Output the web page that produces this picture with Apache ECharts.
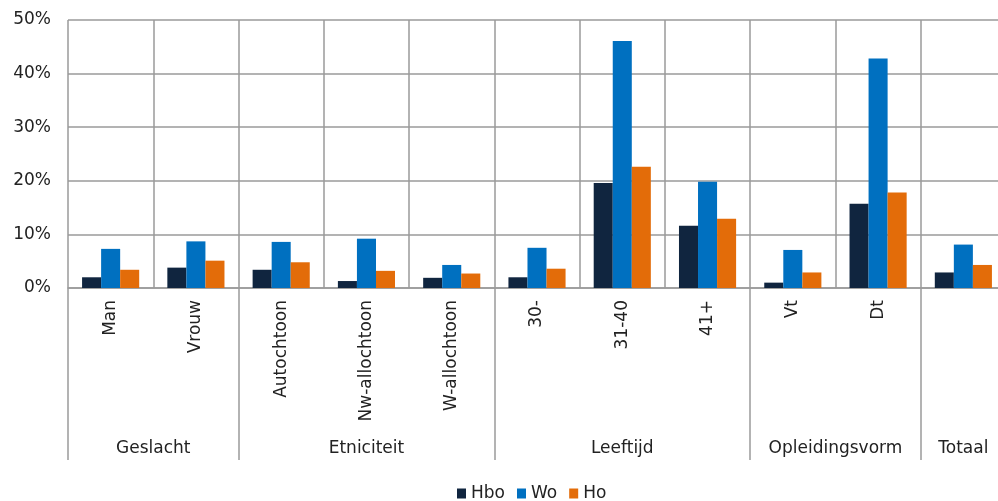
<!DOCTYPE html>
<html>
<head>
<meta charset="utf-8">
<script src="https://cdn.jsdelivr.net/npm/echarts@6/dist/echarts.min.js"></script>
<style>html,body{margin:0;padding:0;background:#fff}#c{width:998px;height:501px}</style>
</head>
<body>
<div id="c"></div>
<script>
const categories = ['Man','Vrouw','Autochtoon','Nw-allochtoon','W-allochtoon','30-','31-40','41+','Vt','Dt',''];
const groupNames = ['Geslacht','Etniciteit','Leeftijd','Opleidingsvorm','Totaal'];
const groupSizes = [2,3,3,2,1];
const hbo = [2.0,3.8,3.4,1.3,1.9,2.0,19.6,11.6,1.0,15.7,2.9];
const wo  = [7.3,8.7,8.6,9.2,4.3,7.5,46.1,19.8,7.1,42.8,8.1];
const ho  = [3.4,5.1,4.8,3.2,2.7,3.6,22.6,12.9,2.9,17.8,4.3];
const yTicks = [0,10,20,30,40,50];

const bounds = [0]; const mids = [];
groupSizes.forEach((s,i)=>{ const b = bounds[bounds.length-1]; mids.push(b + s/2); bounds.push(b + s); });

const gridColor = '#9a9a9a';
const font = 'DejaVu Sans';
const chart = echarts.init(document.getElementById('c'));
chart.setOption({
  animation:false,
  textStyle:{fontFamily:font},
  grid:{left:68, top:20, bottom:213, width:938, containLabel:false, outerBoundsMode:'none'},
  legend:{top:485, left:457, padding:0, itemWidth:9, itemHeight:10, itemGap:12, icon:'rect',
    textStyle:{fontSize:17, color:'#222', fontFamily:font}, data:['Hbo','Wo','Ho']},
  xAxis:[{
    type:'category', data:categories, position:'bottom',
    axisLine:{lineStyle:{color:gridColor, width:1.5}},
    axisTick:{show:false},
    splitLine:{show:true, lineStyle:{color:gridColor, width:1.5}},
    axisLabel:{rotate:90, margin:12, fontSize:17, color:'#222', fontFamily:font, interval:0}
  },{
    type:'value', min:0, max:categories.length, position:'bottom',
    axisLine:{show:false}, splitLine:{show:false},
    axisTick:{show:true, length:172, customValues:bounds, lineStyle:{color:gridColor, width:1.5}},
    axisLabel:{show:true, customValues:mids, margin:152, fontSize:17, color:'#222', fontFamily:font,
      formatter:(v)=>{ const i = mids.findIndex(m=>Math.abs(m-v)<1e-6); return i>=0?groupNames[i]:''; }}
  }],
  yAxis:{
    type:'value', min:0, max:50, interval:10,
    axisLine:{show:false}, axisTick:{show:false},
    splitLine:{lineStyle:{color:gridColor, width:1.5}},
    axisLabel:{formatter:(v)=> yTicks.includes(v)? v+'%' : '', fontSize:17, color:'#222', margin:17, fontFamily:font}
  },
  series:[
    {name:'Hbo', type:'bar', data:hbo, itemStyle:{color:'#10253f'}, barGap:'0%', barCategoryGap:'33%'},
    {name:'Wo', type:'bar', data:wo, itemStyle:{color:'#0070c0'}, barGap:'0%', barCategoryGap:'33%'},
    {name:'Ho', type:'bar', data:ho, itemStyle:{color:'#e36c09'}, barGap:'0%', barCategoryGap:'33%'}
  ]
});
</script>
</body>
</html>
